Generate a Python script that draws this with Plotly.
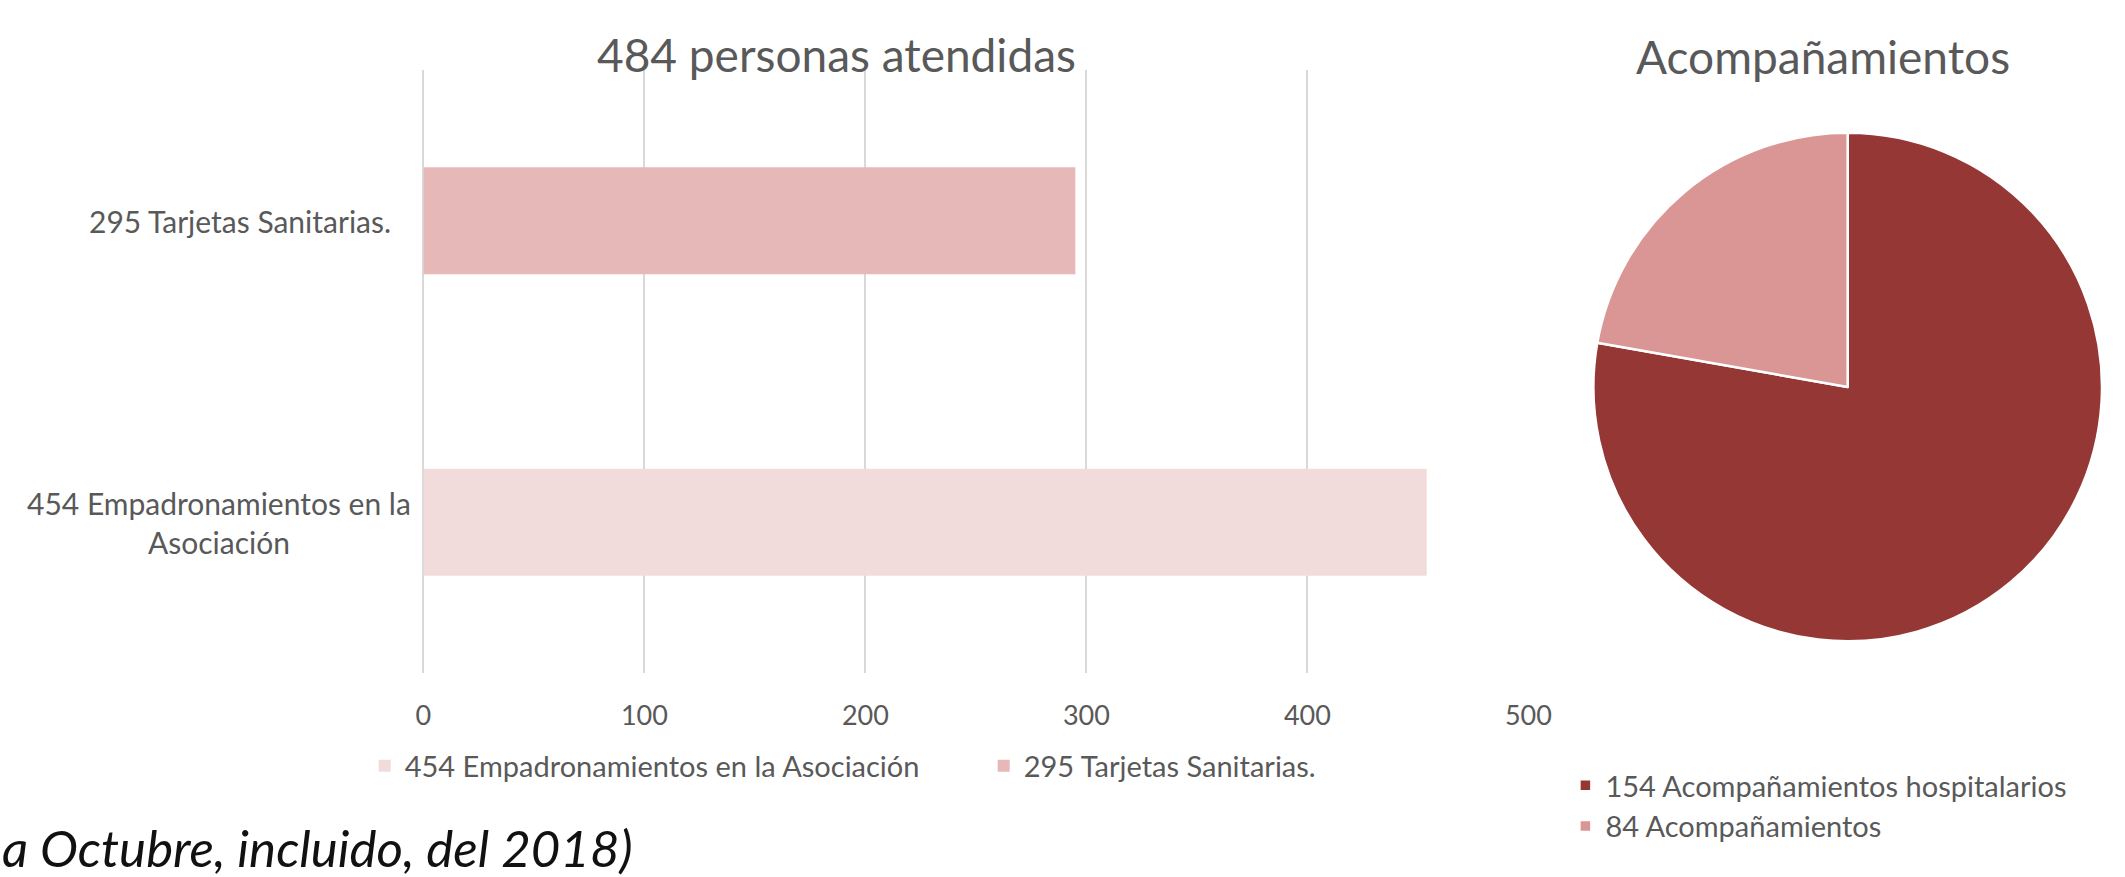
import plotly.graph_objects as go

# ---- data ----
bar_categories = ["454 Empadronamientos en la<br>Asociación", "295 Tarjetas Sanitarias."]
bar_series_names = ["454 Empadronamientos en la Asociación", "295 Tarjetas Sanitarias."]
bar_values = [454, 295]
bar_colors = ["#F2DCDB", "#E6B8B7"]

pie_labels = ["154 Acompañamientos hospitalarios", "84 Acompañamientos"]
pie_values = [154, 44]
pie_colors = ["#953735", "#D99694"]

x_ticks = [0, 100, 200, 300, 400, 500]

bar_title = "484 personas atendidas"
pie_title = "Acompañamientos"
footnote = "a Octubre, incluido, del 2018)"

W, H = 2125, 877
# effective drawing width / left offset observed in the rendering page
WE, OFF = 2094.0, 7.6


def px(x):
    """target horizontal pixel -> paper fraction"""
    return (x - OFF) / WE


def py(y):
    """target vertical pixel (from top) -> paper fraction"""
    return 1 - y / H


FONT = "Lato, 'Open Sans', sans-serif"
TXT = "#595959"
label_gap = [10, 30]  # px gap between category label and plot area, per category

fig = go.Figure()

for cat, name, val, col in zip(bar_categories, bar_series_names, bar_values, bar_colors):
    fig.add_trace(go.Bar(
        y=[cat], x=[val], name=name, orientation="h",
        marker=dict(color=col, line=dict(width=0)),
        width=0.355, legend="legend", hoverinfo="x+name",
    ))

PL, PCY = 1593, 387
pie_x = [px(PL), 1.0]
PR = (pie_x[1] - pie_x[0]) * WE / 2
fig.add_trace(go.Pie(
    labels=pie_labels, values=pie_values, sort=False, direction="clockwise",
    rotation=0, textinfo="none",
    marker=dict(colors=pie_colors, line=dict(color="white", width=2.5)),
    domain=dict(x=pie_x, y=[py(PCY + PR), py(PCY - PR)]),
    legend="legend2", showlegend=True,
))

x_dom = [px(423), px(1528)]

annotations = []
for cat, gap in zip(bar_categories, label_gap):
    annotations.append(dict(
        text=cat, x=x_dom[0], xref="paper", xanchor="right", xshift=-gap,
        y=cat, yref="y", yanchor="middle", align="center", showarrow=False,
        font=dict(family=FONT, size=30, color=TXT),
    ))
annotations.append(dict(text=bar_title, x=px(836), y=py(54), xref="paper", yref="paper",
                        xanchor="center", yanchor="middle", showarrow=False,
                        font=dict(family=FONT, size=46, color=TXT)))
annotations.append(dict(text=pie_title, x=px(1823), y=py(57), xref="paper", yref="paper",
                        xanchor="center", yanchor="middle", showarrow=False,
                        font=dict(family=FONT, size=46, color=TXT)))
annotations.append(dict(text="<i>" + footnote + "</i>", x=0, y=0, xref="paper", yref="paper",
                        xanchor="left", yanchor="bottom", xshift=-8, yshift=-3, showarrow=False,
                        font=dict(family=FONT, size=51, color="#111111")))

fig.update_layout(
    width=W, height=H, autosize=False,
    margin=dict(l=0, r=0, t=0, b=0),
    paper_bgcolor="white", plot_bgcolor="white",
    barmode="overlay",
    font=dict(family=FONT, size=27, color=TXT),
    xaxis=dict(domain=x_dom, range=[0, 500], tickvals=x_ticks,
               showgrid=True, gridcolor="#D9D9D9", gridwidth=1.5,
               zeroline=True, zerolinecolor="#D9D9D9", zerolinewidth=1.5,
               showline=False, ticks="", ticklabelstandoff=24,
               tickfont=dict(family=FONT, size=27, color=TXT), fixedrange=True),
    yaxis=dict(domain=[py(673), py(70)], range=[-0.5, 1.5],
               categoryorder="array", categoryarray=bar_categories,
               showticklabels=False, showgrid=False, zeroline=False, showline=False,
               fixedrange=True),
    legend=dict(orientation="h", x=px(364.3), xanchor="left", y=py(766), yanchor="middle",
                font=dict(family=FONT, size=29, color=TXT), traceorder="normal",
                entrywidth=574, bgcolor="rgba(0,0,0,0)"),
    legend2=dict(orientation="v", x=px(1565), xanchor="left", y=py(806), yanchor="middle",
                 font=dict(family=FONT, size=29, color=TXT), bgcolor="rgba(0,0,0,0)"),
    annotations=annotations,
    showlegend=True,
)

fig.write_html(
    "out.html",
    config={"responsive": False, "displayModeBar": False},
    post_script=(
        "document.documentElement.style.margin='0';"
        "document.documentElement.style.overflow='hidden';"
        "document.body.style.margin='0';document.body.style.padding='0';"
        "document.body.style.overflow='hidden';"
    ),
)
